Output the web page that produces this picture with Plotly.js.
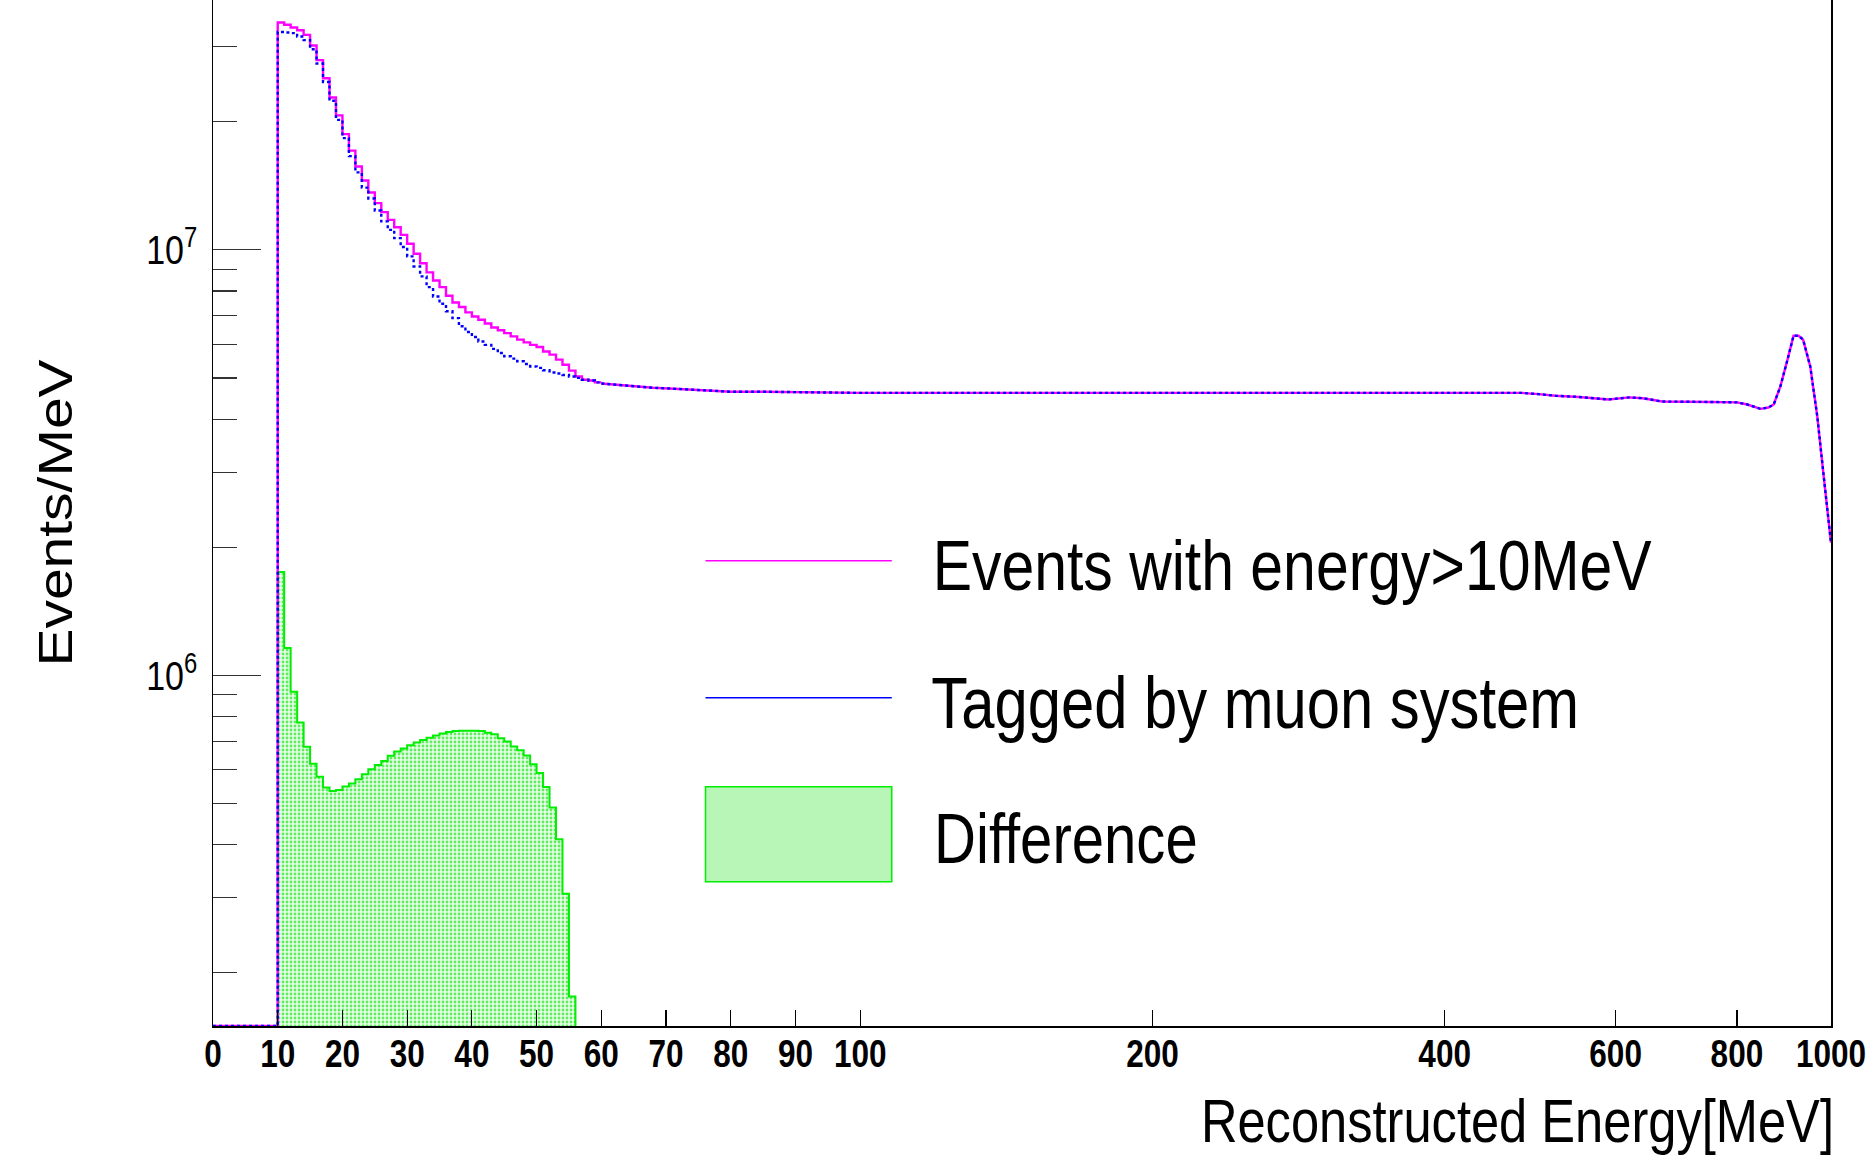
<!DOCTYPE html>
<html>
<head>
<meta charset="utf-8">
<script src="https://cdn.plot.ly/plotly-3.0.1.min.js"></script>
<style>
html,body{margin:0;padding:0;background:#ffffff;}
#chart{width:1869px;height:1161px;}
</style>
</head>
<body>
<div id="chart"></div>
<script>
// ---------------- data ----------------
// 1 MeV histogram bins, low edges in MeV
const binLow = [0,1,2,3,4,5,6,7,8,9,10,11,12,13,14,15,16,17,18,19,20,21,22,23,24,25,26,27,28,29,
                30,31,32,33,34,35,36,37,38,39,40,41,42,43,44,45,46,47,48,49,50,51,52,53,54,55,56,57,58,59];
const binWidth = 1;
// Events with energy>10MeV (Events/MeV)
const events = [0,0,0,0,0,0,0,0,0,0,
  3.42e7,3.38e7,3.33e7,3.28e7,3.20e7,3.02e7,2.79e7,2.53e7,2.28e7,2.07e7,
  1.87e7,1.71e7,1.57e7,1.455e7,1.363e7,1.287e7,1.226e7,1.176e7,1.130e7,1.084e7,
  1.033e7,9.79e6,9.30e6,8.85e6,8.47e6,8.17e6,7.80e6,7.52e6,7.34e6,7.13e6,
  6.97e6,6.85e6,6.71e6,6.57e6,6.47e6,6.37e6,6.26e6,6.15e6,6.06e6,5.98e6,
  5.91e6,5.77e6,5.67e6,5.52e6,5.37e6,5.20e6,5.04e6,4.95e6,4.93e6,4.88e6];
// Tagged by muon system (Events/MeV)
const tagged = [0,0,0,0,0,0,0,0,0,0,
  3.25e7,3.24e7,3.23e7,3.17e7,3.11e7,2.96e7,2.74e7,2.48e7,2.24e7,2.02e7,
  1.83e7,1.66e7,1.52e7,1.40e7,1.32e7,1.237e7,1.166e7,1.114e7,1.065e7,1.015e7,
  9.65e6,9.14e6,8.66e6,8.17e6,7.77e6,7.47e6,7.17e6,6.91e6,6.61e6,6.41e6,
  6.24e6,6.09e6,5.98e6,5.85e6,5.72e6,5.62e6,5.55e6,5.47e6,5.39e6,5.32e6,
  5.28e6,5.21e6,5.15e6,5.12e6,5.08e6,5.04e6,5.00e6,4.95e6,4.93e6,4.88e6];
// Difference, bins 10..55 MeV
const diffLow = [10,11,12,13,14,15,16,17,18,19,20,21,22,23,24,25,26,27,28,29,
                 30,31,32,33,34,35,36,37,38,39,40,41,42,43,44,45,46,47,48,49,50,51,52,53,54,55];
const difference = [1.75e6,1.16e6,9.15e5,7.75e5,6.80e5,6.20e5,5.78e5,5.45e5,5.35e5,5.38e5,
  5.48e5,5.57e5,5.70e5,5.86e5,6.02e5,6.16e5,6.29e5,6.47e5,6.62e5,6.73e5,
  6.85e5,6.95e5,7.05e5,7.14e5,7.22e5,7.30e5,7.36e5,7.40e5,7.41e5,7.41e5,
  7.41e5,7.40e5,7.33e5,7.27e5,7.12e5,6.99e5,6.81e5,6.67e5,6.48e5,6.18e5,
  5.90e5,5.47e5,4.89e5,4.12e5,3.07e5,1.76e5];
// Above 60 MeV both spectra coincide
const tailEnergy = [60,62,65,68,72,76,80,85,90,95,100,150,200,300,400,480,500,520,550,575,590,
                    620,640,670,700,750,800,820,846,862,873,887,902,915,926,936,952,968,982,994,1000];
const tailEvents = [4.85e6,4.82e6,4.78e6,4.74e6,4.71e6,4.67e6,4.64e6,4.64e6,4.63e6,4.61e6,4.61e6,
                    4.61e6,4.61e6,4.61e6,4.61e6,4.61e6,4.58e6,4.54e6,4.51e6,4.48e6,4.45e6,
                    4.50e6,4.48e6,4.40e6,4.39e6,4.39e6,4.38e6,4.33e6,4.23e6,4.26e6,4.33e6,
                    4.78e6,5.52e6,6.28e6,6.28e6,6.15e6,5.32e6,4.06e6,2.99e6,2.37e6,2.05e6];
// axis ticks
const xTickLabels = [0,10,20,30,40,50,60,70,80,90,100,200,400,600,800,1000];
const xLongTicks = [200,400,600,800];
const yMajorTicks = [1e6,1e7];
const yMajorLabels = ['10<sup>6</sup>','10<sup>7</sup>'];
const yMinorTicks = [2e5,3e5,4e5,5e5,6e5,7e5,8e5,9e5,2e6,3e6,4e6,5e6,6e6,7e6,8e6,9e6,2e7,3e7];
const seriesNames = ['Events with energy>10MeV','Tagged by muon system','Difference'];

// ---------------- axis mapping: linear to 100 MeV, logarithmic above ----------------
function u(E){ return E <= 100 ? E : 100 + 150*Math.log10(E/100); }
const yMin = 1.5e5, yMaxLog = 7.587;
function clampY(v){ return v > yMin ? v : yMin; }

function stepXY(lows, vals, w){
  const x = [], y = [];
  for (let i=0;i<lows.length;i++){ x.push(u(lows[i])); y.push(clampY(vals[i])); }
  x.push(u(lows[lows.length-1]+w)); y.push(clampY(vals[vals.length-1]));
  return {x, y};
}
const evStep = stepXY(binLow, events, binWidth);
const tgStep = stepXY(binLow, tagged, binWidth);
const dfStep = stepXY(diffLow, difference, binWidth);
// close the difference polygon at the floor of the axis
const dfX = [dfStep.x[0]].concat(dfStep.x, [dfStep.x[dfStep.x.length-1]]);
const dfY = [yMin].concat(dfStep.y, [yMin]);

const tailX = tailEnergy.map(u);

const MAG = '#ff00ff', BLU = '#0000ff', GRN = '#00ee00';
const FONT = "'Liberation Sans', Arial, Helvetica, sans-serif";
const SQUEEZE = 0.83;   // the reference's lettering is condensed horizontally

const traces = [
  {x: dfX, y: dfY, type:'scatter', mode:'lines', name: seriesNames[2],
   line:{shape:'hv', color:GRN, width:2}, fill:'toself',
   fillpattern:{shape:'.', fgcolor:'#5fec5f', bgcolor:'#e6fde6', size:4, solidity:0.38},
   hoverinfo:'skip'},
  {x: evStep.x, y: evStep.y, type:'scatter', mode:'lines', name: seriesNames[0],
   line:{shape:'hv', color:MAG, width:2.4}},
  {x: tailX, y: tailEvents, type:'scatter', mode:'lines', name: seriesNames[0], showlegend:false,
   line:{color:MAG, width:2.4}},
  {x: tgStep.x, y: tgStep.y, type:'scatter', mode:'lines', name: seriesNames[1],
   line:{shape:'hv', color:BLU, width:2.4, dash:'3px,3px'}},
  {x: tailX, y: tailEvents, type:'scatter', mode:'lines', name: seriesNames[1], showlegend:false,
   line:{color:BLU, width:2.4, dash:'3px,3px'}}
];

// legend geometry in paper coordinates
const L = {x0:0.3044, x1:0.4195};
const legendItems = [
  {y:0.4535, tx:0.6669, ty:0.4486},
  {y:0.3200, tx:0.6440, ty:0.3153},
  {y0:0.1406, y1:0.2332, tx:0.5275, ty:0.1823}
];

const layout = {
  width:1869, height:1161,
  margin:{l:213, r:38, t:0, b:135, pad:0},
  paper_bgcolor:'#ffffff', plot_bgcolor:'#ffffff',
  showlegend:false,
  xaxis:{
    range:[0, u(1000)], showgrid:false, zeroline:false,
    showline:true, linecolor:'#000', linewidth:1.5,
    tickmode:'array', tickvals: xTickLabels.map(u), ticktext: xTickLabels.map(String),
    ticks:'inside', ticklen:16, tickwidth:1.2, tickcolor:'#000', tickangle:0,
    tickfont:{family:FONT, size:38, color:'#000', weight:'bold'},
    ticklabelstandoff:-6, ticklabeloverflow:'allow'
  },
  xaxis2:{
    overlaying:'x', anchor:'y', side:'bottom', range:[0, u(1000)],
    showgrid:false, zeroline:false, showline:false, showticklabels:false,
    tickmode:'array', tickvals: xLongTicks.map(u),
    ticks:'inside', ticklen:48, tickwidth:1.2, tickcolor:'#000'
  },
  yaxis:{
    type:'log', range:[Math.log10(yMin), yMaxLog],
    showgrid:false, zeroline:false, showline:true, mirror:true, linecolor:'#000', linewidth:1.5,
    tickmode:'array', tickvals: yMajorTicks, ticktext: yMajorLabels,
    ticks:'inside', ticklen:48, tickwidth:1.2, tickcolor:'#333',
    minor:{tickmode:'array', tickvals: yMinorTicks, ticks:'inside', ticklen:24, tickwidth:1.2, tickcolor:'#333', showgrid:false},
    tickfont:{family:FONT, size:41, color:'#000'},
    ticklabelstandoff:6,
    title:{text:'Events/MeV', font:{family:FONT, size:57, color:'#000'}, standoff:45}
  },
  shapes:[
    {type:'line', xref:'paper', yref:'paper', x0:L.x0, x1:L.x1, y0:legendItems[0].y, y1:legendItems[0].y, line:{color:MAG, width:1.5}},
    {type:'line', xref:'paper', yref:'paper', x0:L.x0, x1:L.x1, y0:legendItems[1].y, y1:legendItems[1].y, line:{color:BLU, width:1.5}},
    {type:'rect', xref:'paper', yref:'paper', x0:L.x0, x1:L.x1, y0:legendItems[2].y0, y1:legendItems[2].y1, fillcolor:'#b8f6b8', line:{color:GRN, width:1.5}}
  ],
  annotations:[
    {xref:'paper', yref:'paper', x:legendItems[0].tx, y:legendItems[0].ty, xanchor:'center', yanchor:'middle', showarrow:false,
     text:seriesNames[0], font:{family:FONT, size:71, color:'#000'}},
    {xref:'paper', yref:'paper', x:legendItems[1].tx, y:legendItems[1].ty, xanchor:'center', yanchor:'middle', showarrow:false,
     text:seriesNames[1], font:{family:FONT, size:72, color:'#000'}},
    {xref:'paper', yref:'paper', x:legendItems[2].tx, y:legendItems[2].ty, xanchor:'center', yanchor:'middle', showarrow:false,
     text:seriesNames[2], font:{family:FONT, size:70, color:'#000'}},
    {xref:'paper', yref:'paper', x:0.8062, y:-0.093, xanchor:'center', yanchor:'middle', showarrow:false,
     text:'Reconstructed Energy[MeV]', font:{family:FONT, size:61, color:'#000'}}
  ]
};

Plotly.newPlot('chart', traces, layout, {displayModeBar:false, staticPlot:true}).then(function(gd){
  // condense the lettering about each text's own anchor point, as in the reference
  gd.querySelectorAll('svg text').forEach(function(t){
    if (!t.textContent.trim()) return;
    var x = parseFloat(t.getAttribute('x')) || 0;
    var y = parseFloat(t.getAttribute('y')) || 0;
    var tr = t.getAttribute('transform') || '';
    var extra;
    if (t.closest('.g-ytitle')) {
      // rotated title: condense across the baseline (its horizontal extent on screen)
      extra = ' translate(' + x + ',' + y + ') scale(1,' + SQUEEZE + ') translate(' + (-x) + ',' + (-y) + ')';
    } else {
      extra = ' translate(' + x + ',0) scale(' + SQUEEZE + ',1) translate(' + (-x) + ',0)';
    }
    t.setAttribute('transform', (tr + extra).trim());
  });
});
</script>
</body>
</html>
